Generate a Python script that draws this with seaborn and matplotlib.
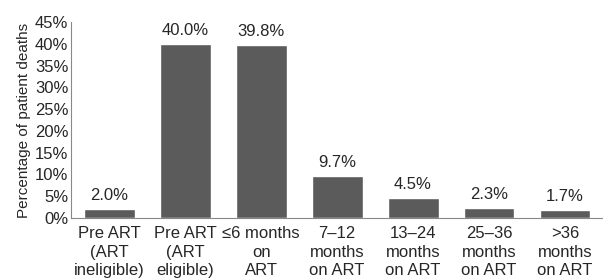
import pandas as pd
import seaborn as sns
import matplotlib.pyplot as plt

categories = ['Pre ART\n(ART\nineligible)', 'Pre ART\n(ART\neligible)', '≤6 months\non\nART',
              '7–12\nmonths\non ART', '13–24\nmonths\non ART', '25–36\nmonths\non ART',
              '>36\nmonths\non ART']
deaths_pct = [2.0, 40.0, 39.8, 9.7, 4.5, 2.3, 1.7]
y_ticks = [0, 5, 10, 15, 20, 25, 30, 35, 40, 45]

df = pd.DataFrame({'stage': categories, 'pct': deaths_pct})

sns.set_style('white')
plt.rcParams['font.family'] = ['Liberation Sans', 'DejaVu Sans']

fig = plt.figure(figsize=(6.03, 2.79), dpi=100)
ax = fig.add_axes([0.118, 0.219, 0.882, 0.702])
sns.barplot(data=df, x='stage', y='pct', color='#5b5b5b', width=0.67,
            saturation=1, ax=ax)

for i, v in enumerate(deaths_pct):
    ax.text(i, v + 1.4, f'{v:.1f}%', ha='center', va='bottom', fontsize=12)

ax.set_xlim(-0.5, 6.5)
ax.set_ylim(0, 45)
ax.set_yticks(y_ticks)
ax.set_yticklabels([f'{t}%' for t in y_ticks], fontsize=12)
ax.tick_params(axis='x', labelsize=12, pad=6, length=0)
ax.tick_params(axis='y', pad=2, length=0)
for lbl in ax.get_xticklabels():
    lbl.set_linespacing(1.28)
ax.set_xlabel('')
ax.set_ylabel('Percentage of patient deaths', fontsize=11, labelpad=3)
sns.despine(ax=ax, top=True, right=True)
for s in ['left', 'bottom']:
    ax.spines[s].set_color('#888888')
    ax.spines[s].set_linewidth(0.8)

plt.savefig('out.png', dpi=100)
